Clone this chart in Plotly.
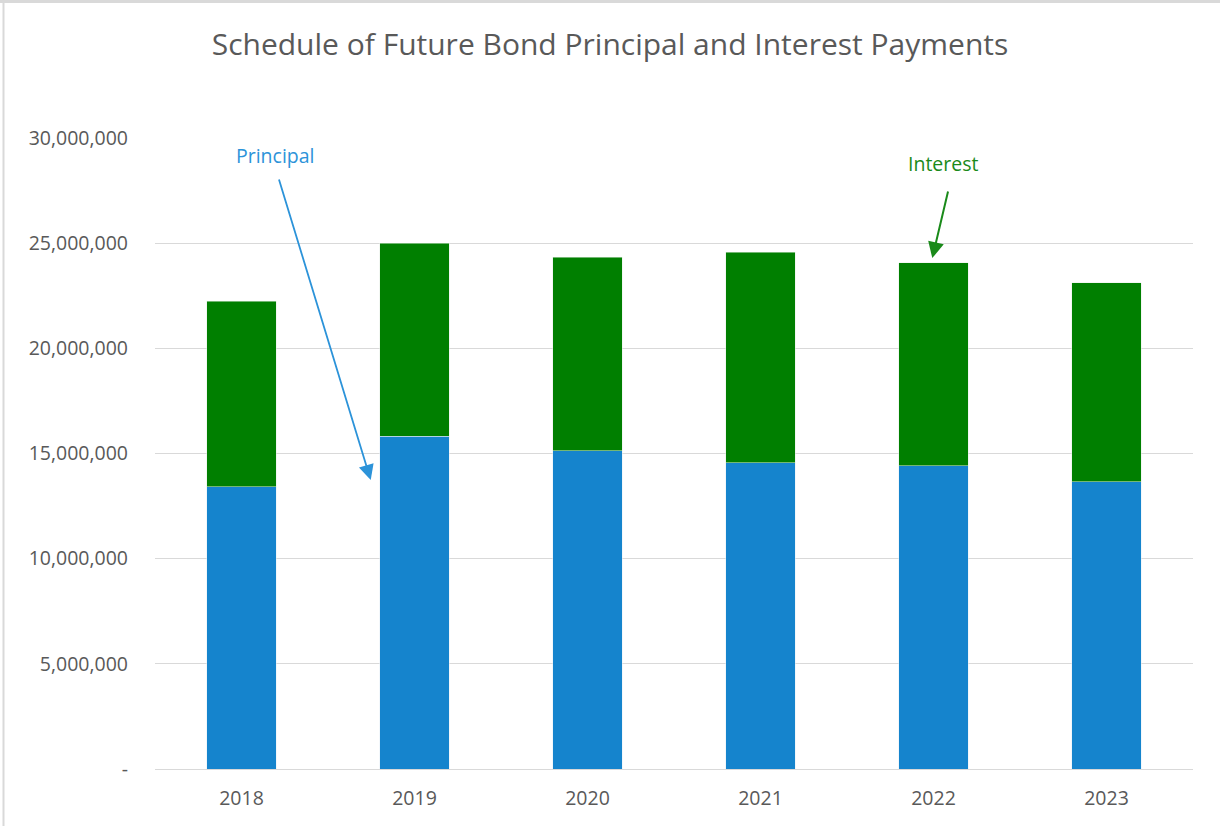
import plotly.graph_objects as go

years = ["2018", "2019", "2020", "2021", "2022", "2023"]
principal = [13410000, 15830000, 15120000, 14550000, 14410000, 13650000]
interest = [8840000, 9170000, 9220000, 10030000, 9650000, 9460000]
tick_vals = [0, 5000000, 10000000, 15000000, 20000000, 25000000, 30000000]
tick_text = ["-", "5,000,000", "10,000,000", "15,000,000", "20,000,000", "25,000,000", "30,000,000"]

W, H = 1220, 826
L, R, T, B = 155, 27, 138, 57
pw, ph = W - L - R, H - T - B

def px_x(x):
    return (x - L) / pw

def px_y(y):
    return (H - B - y) / ph

fig = go.Figure()
fig.add_trace(go.Bar(x=years, y=principal, name="Principal",
                     marker=dict(color="#1584CD", line=dict(color="#e6f0f8", width=0.5))))
fig.add_trace(go.Bar(x=years, y=interest, name="Interest",
                     marker=dict(color="#007F00", line=dict(color="#e6f0e6", width=0.5))))

blue_txt = "#2C93D9"
green_txt = "#1A8A1A"

fig.update_layout(
    barmode="stack",
    bargap=0.6,
    width=W, height=H,
    margin=dict(l=L, r=R, t=T, b=B, pad=0),
    paper_bgcolor="white",
    plot_bgcolor="white",
    showlegend=False,
    font=dict(family="Open Sans, Liberation Sans, sans-serif", color="#595959"),
    title=dict(text="Schedule of Future Bond Principal and Interest Payments",
               x=0.5, xanchor="center", y=1 - 44 / H, yanchor="middle",
               font=dict(size=30, color="#595959", family="Open Sans, sans-serif")),
    xaxis=dict(type="category", showgrid=False, showline=True, linecolor="#D9D9D9",
               linewidth=1, ticks="", tickfont=dict(size=19.5, color="#595959"),
               ticklabelstandoff=12),
    yaxis=dict(range=[0, 30000000], tickvals=tick_vals, ticktext=tick_text,
               showgrid=True, gridcolor="#D9D9D9", gridwidth=1, zeroline=False,
               showline=False, ticks="", tickfont=dict(size=19.5, color="#595959"),
               ticklabelstandoff=26),
)

# Arrows (data coordinates on category index axis)
fig.add_annotation(x=0.747, y=13740000, ax=0.214, ay=28100000, xref="x", yref="y",
                   axref="x", ayref="y", text="", showarrow=True, arrowhead=2,
                   arrowsize=1.7, arrowwidth=1.8, arrowcolor=blue_txt)
fig.add_annotation(x=0.197, y=29190000, xref="x", yref="y", text="Principal",
                   showarrow=False, font=dict(size=19.5, color=blue_txt))
fig.add_annotation(x=3.993, y=24290000, ax=4.086, ay=27530000, xref="x", yref="y",
                   axref="x", ayref="y", text="", showarrow=True, arrowhead=2,
                   arrowsize=1.6, arrowwidth=2, arrowcolor=green_txt)
fig.add_annotation(x=4.057, y=28810000, xref="x", yref="y", text="Interest",
                   showarrow=False, font=dict(size=19.5, color=green_txt))

# top and left border lines of the chart frame
fig.add_shape(type="line", xref="paper", yref="paper",
              x0=px_x(0), x1=px_x(W), y0=px_y(1.5), y1=px_y(1.5),
              line=dict(color="#D9D9D9", width=3))
fig.add_shape(type="line", xref="paper", yref="paper",
              x0=px_x(3.5), x1=px_x(3.5), y0=px_y(H), y1=px_y(0),
              line=dict(color="#D9D9D9", width=2))

fig.write_html("out.html", config={"displayModeBar": False},
               post_script="document.body.style.margin='0px';")
